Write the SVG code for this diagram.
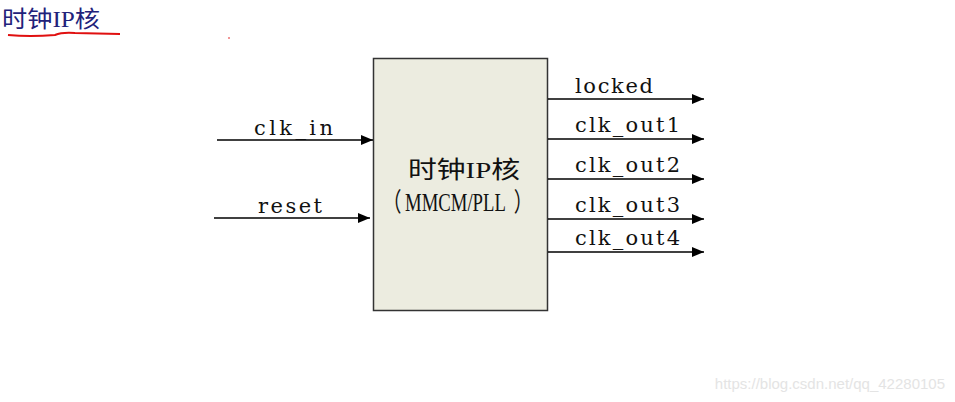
<svg xmlns="http://www.w3.org/2000/svg" width="955" height="402" viewBox="0 0 955 402">
<defs>
<marker id="ah" markerWidth="12" markerHeight="10" refX="12" refY="5" orient="auto" markerUnits="userSpaceOnUse">
<path d="M0,0 L12,5 L0,10 Z" fill="#000"/>
</marker>
<style>
.lbl{font-family:"DejaVu Serif","Liberation Serif",serif;font-size:21px;fill:#111}
.cn{font-family:"Liberation Serif","Noto Sans CJK SC",serif;font-size:23px;fill:#111}
.wire{stroke:#000;stroke-width:1.6;fill:none;marker-end:url(#ah)}
</style>
</defs>
<rect width="955" height="402" fill="#fff"/>
<g id="title">
<text x="2" y="27" textLength="98" lengthAdjust="spacingAndGlyphs" style="font-family:'Liberation Serif','Noto Sans CJK SC',serif;font-size:23px;fill:#22227a">时钟IP核</text>
<path d="M8,35 Q30,37 55,35 Q62,32 75,33 L120,34" stroke="#e01010" stroke-width="2" fill="none"/>
<circle cx="229" cy="38" r="0.8" fill="#e01010"/>
</g>
<g id="core">
<rect x="373.5" y="58.5" width="174" height="252" fill="#ecece0" stroke="#333" stroke-width="1.5"/>
<text class="cn" x="408" y="178" textLength="112" lengthAdjust="spacingAndGlyphs" style="font-size:24px">时钟IP核</text>
<text class="cn" transform="matrix(0.72,0,0,1,387,211)" y="0" style="font-size:26px"><tspan x="-6">（</tspan><tspan x="25">MMCM/PLL</tspan><tspan x="176">）</tspan></text>
</g>
<g id="connectors">
<line class="wire" x1="217" y1="140" x2="373" y2="140"/>
<line class="wire" x1="214" y1="218" x2="370" y2="218"/>
<line class="wire" x1="548" y1="99" x2="704" y2="99"/>
<line class="wire" x1="548" y1="139" x2="704" y2="139"/>
<line class="wire" x1="548" y1="179" x2="704" y2="179"/>
<line class="wire" x1="548" y1="219" x2="704" y2="219"/>
<line class="wire" x1="548" y1="252" x2="704" y2="252"/>
</g>
<g id="labels">
<text class="lbl" x="254" y="135" textLength="79" lengthAdjust="spacing">clk_in</text>
<text class="lbl" x="258" y="213" textLength="64" lengthAdjust="spacing">reset</text>
<text class="lbl" x="575" y="93" textLength="78" lengthAdjust="spacing">locked</text>
<text class="lbl" x="575" y="132" textLength="105" lengthAdjust="spacing">clk_out1</text>
<text class="lbl" x="575" y="172" textLength="105" lengthAdjust="spacing">clk_out2</text>
<text class="lbl" x="575" y="212" textLength="105" lengthAdjust="spacing">clk_out3</text>
<text class="lbl" x="575" y="245" textLength="105" lengthAdjust="spacing">clk_out4</text>
</g>
<text x="945" y="389" text-anchor="end" style="font-family:'Liberation Sans',sans-serif;font-size:15px;fill:#e4e4e4">https://blog.csdn.net/qq_42280105</text>
</svg>
